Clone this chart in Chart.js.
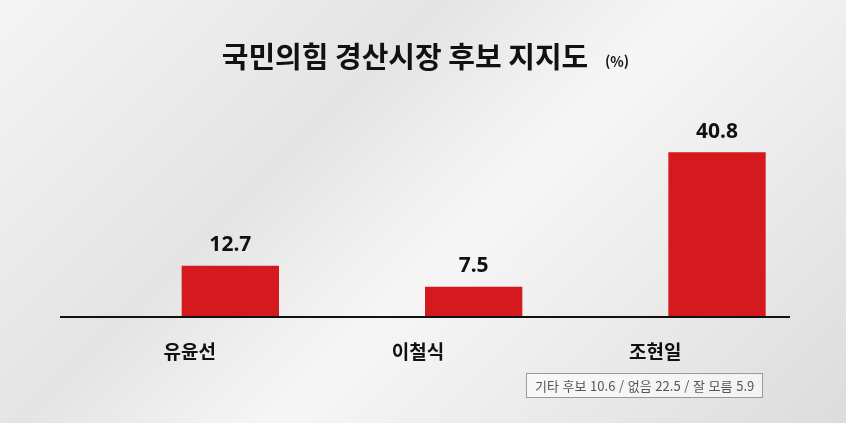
<!DOCTYPE html>
<html lang="ko">
<head>
<meta charset="UTF-8">
<title>국민의힘 경산시장 후보 지지도</title>
<script src="https://cdn.jsdelivr.net/npm/chart.js"></script>
<style>
  html, body { margin: 0; padding: 0; }
  body {
    width: 846px; height: 423px; overflow: hidden; position: relative;
    background: linear-gradient(135deg, #f4f4f4 0%, #e4e4e4 35%, #f6f6f6 55%, #dcdcdc 100%);
    font-family: "Noto Sans CJK KR", "Noto Sans", sans-serif;
  }
  #wrap { position: absolute; left: 0; top: 0; width: 846px; height: 423px; }
  .note {
    position: absolute; left: 526px; top: 373px; padding: 2px 8px;
    border: 1px solid #999; background: rgba(255,255,255,0.6);
    font-size: 13px; color: #555;
  }
</style>
</head>
<body>
<div id="wrap"><canvas id="c"></canvas></div>
<div class="note">기타 후보 10.6 / 없음 22.5 / 잘 모름 5.9</div>
<script>
const candidates = ['유윤선', '이철식', '조현일'];
const support = [12.7, 7.5, 40.8];
const spacer = [0, 0, 0];
const nameShift = [8, -55, -61];

const labelPlugin = {
  id: 'labels',
  afterDraw(chart) {
    const ctx = chart.ctx;
    const x = chart.scales.x, y = chart.scales.y;
    ctx.save();
    ctx.textAlign = 'center';
    ctx.fillStyle = '#111';
    // title
    ctx.font = 'bold 29px "Noto Sans CJK KR"';
    ctx.textBaseline = 'middle';
    ctx.fillText('국민의힘 경산시장 후보 지지도', 405, 57);
    ctx.font = 'bold 14px "Noto Sans CJK KR"';
    ctx.fillText('(%)', 617, 62);
    // baseline
    ctx.strokeStyle = '#111';
    ctx.lineWidth = 2;
    ctx.beginPath();
    ctx.moveTo(60, y.getPixelForValue(0));
    ctx.lineTo(790, y.getPixelForValue(0));
    ctx.stroke();
    // candidate names
    ctx.font = 'bold 19px "Noto Sans CJK KR"';
    candidates.forEach((n, i) => {
      ctx.fillText(n, x.getPixelForValue(i) + [8, -7, -13][i], 352);
    });
    // values
    const meta = chart.getDatasetMeta(1);
    ctx.font = 'bold 21px "Noto Sans", sans-serif';
    ctx.textBaseline = 'bottom';
    meta.data.forEach((bar, i) => {
      ctx.fillText(support[i].toFixed(1), bar.x, bar.y - 10);
    });
    ctx.restore();
  }
};

new Chart(document.getElementById('c'), {
  type: 'bar',
  data: {
    labels: candidates,
    datasets: [
      { data: spacer, backgroundColor: 'rgba(0,0,0,0)' },
      { data: support, backgroundColor: '#d41a1f' }
    ]
  },
  options: {
    responsive: true,
    maintainAspectRatio: false,
    animation: false,
    layout: { padding: { left: 60, right: 56, top: 115, bottom: 106 } },
    datasets: { bar: { categoryPercentage: 0.8, barPercentage: 1 } },
    plugins: { legend: { display: false }, tooltip: { enabled: false } },
    scales: {
      x: { display: false },
      y: { display: false, min: 0, max: 50 }
    }
  },
  plugins: [labelPlugin]
});
</script>
</body>
</html>
